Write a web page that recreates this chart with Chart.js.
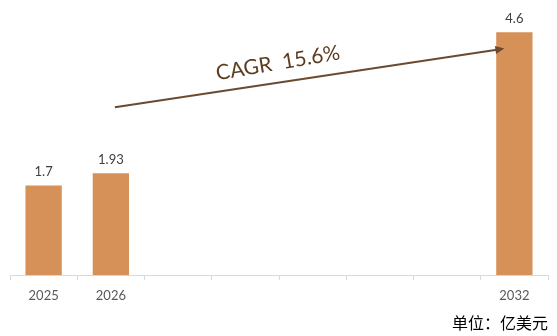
<!DOCTYPE html>
<html>
<head>
<meta charset="utf-8">
<script src="https://cdn.jsdelivr.net/npm/chart.js@4"></script>
<style>
  html, body { margin: 0; padding: 0; background: #fff; }
  #wrap { width: 557px; height: 336px; }
</style>
</head>
<body>
<div id="wrap"><canvas id="myChart" width="557" height="336"></canvas></div>
<script>
// Data
var years = ["2025", "2026", "2027", "2028", "2029", "2030", "2031", "2032"];
var tickLabels = ["2025", "2026", "", "", "", "", "", "2032"];
var marketSize = [1.7, 1.93, null, null, null, null, null, 4.6];
var valueLabels = ["1.7", "1.93", "", "", "", "", "", "4.6"];
var cagrText = "CAGR  15.6%";
var unitText = "单位：亿美元";

// Value labels on top of bars
var barLabels = {
    id: "barLabels",
    afterDatasetsDraw: function(chart) {
        var ctx = chart.ctx;
        var meta = chart.getDatasetMeta(0);
        ctx.save();
        ctx.font = "13px Lato";
        ctx.fillStyle = "#404040";
        ctx.textAlign = "center";
        ctx.textBaseline = "bottom";
        meta.data.forEach(function(bar, i) {
            if (marketSize[i] == null) return;
            ctx.fillText(valueLabels[i], bar.x, bar.y - 7);
        });
        ctx.restore();
    }
};

// CAGR arrow from 2026 towards 2032
var cagrArrow = {
    id: "cagrArrow",
    afterDraw: function(chart) {
        var ctx = chart.ctx;
        var x = chart.scales.x, y = chart.scales.y;
        var x1 = x.getPixelForValue(1) + 4, y1 = y.getPixelForValue(3.18);
        var x2 = x.getPixelForValue(7) - 10, y2 = y.getPixelForValue(4.29);
        var ang = Math.atan2(y2 - y1, x2 - x1);
        ctx.save();
        ctx.strokeStyle = "#6B4A30";
        ctx.fillStyle = "#6B4A30";
        ctx.lineWidth = 2;
        ctx.beginPath();
        ctx.moveTo(x1, y1);
        ctx.lineTo(x2 - 6 * Math.cos(ang), y2 - 6 * Math.sin(ang));
        ctx.stroke();
        ctx.translate(x2, y2);
        ctx.rotate(ang);
        ctx.beginPath();
        ctx.moveTo(0, 0);
        ctx.lineTo(-9, -4);
        ctx.lineTo(-9, 4);
        ctx.closePath();
        ctx.fill();
        ctx.restore();

        // label
        ctx.save();
        ctx.translate(278, 63);
        ctx.rotate(ang - 0.02);
        ctx.font = "21px Lato";
        ctx.fillStyle = "#5C3D22";
        ctx.textAlign = "center";
        ctx.textBaseline = "middle";
        ctx.fillText(cagrText, 0, 0);
        ctx.restore();
    }
};

var chartCtx = document.getElementById("myChart").getContext("2d");
var marketChart = new Chart(chartCtx, {
    type: "bar",
    data: {
        labels: years,
        datasets: [{
            data: marketSize,
            backgroundColor: "#D69159",
            categoryPercentage: 1,
            barPercentage: 0.54,
        }],
    },
    options: {
        responsive: false,
        animation: false,
        layout: { padding: { left: 10, right: 9, top: 0, bottom: 3 } },
        plugins: {
            legend: { display: false },
            tooltip: { enabled: false },
            title: {
                display: true,
                text: unitText,
                position: "bottom",
                align: "end",
                color: "#000",
                font: { family: "Noto Sans CJK SC", size: 16, weight: "normal" },
                padding: { top: 2, bottom: 0 },
            },
        },
        scales: {
            x: {
                grid: {
                    offset: true,
                    drawOnChartArea: false,
                    drawTicks: true,
                    tickLength: 5,
                    color: "#D9D9D9",
                },
                border: { color: "#D9D9D9", width: 1 },
                ticks: {
                    color: "#595959",
                    font: { family: "Lato", size: 13 },
                    padding: 8,
                    maxRotation: 0,
                    autoSkip: false,
                    callback: function(v, i) { return tickLabels[i]; },
                },
            },
            y: {
                display: false,
                min: 0,
                max: 5.21,
            },
        },
    },
    plugins: [barLabels, cagrArrow],
});
</script>
</body>
</html>
